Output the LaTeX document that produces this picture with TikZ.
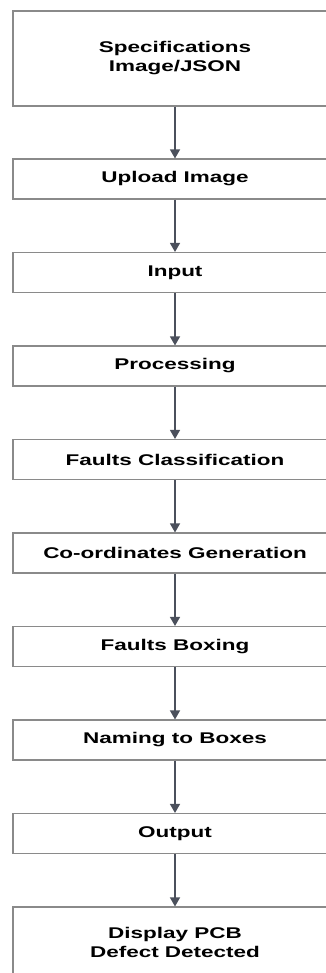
\documentclass[tikz,border=0pt]{standalone}
\usepackage{fontspec}
\newfontfamily\flowfont{Liberation Sans}[FakeStretch=1.45]
\usetikzlibrary{arrows.meta}
\definecolor{boxgray}{HTML}{8A8A8A}
\definecolor{arrowgray}{HTML}{4B505C}
\begin{document}
\begin{tikzpicture}[x=1pt,y=-1pt,
	stepbox/.style={draw=boxgray,line width=1.1pt,fill=white,minimum width=324pt,minimum height=40pt,
		align=center,font=\flowfont\bfseries\fontsize{15.5}{19}\selectfont},
	flow/.style={draw=arrowgray,line width=1.3pt,-{Triangle[length=9pt,width=10pt]}}]
	\useasboundingbox[fill=white] (0,0) rectangle (326,973);

	\node[stepbox,minimum height=95pt] (spec) at (175,58.5) {Specifications\\Image/JSON};
	\node[stepbox] (upload) at (175,179) {Upload Image};
	\node[stepbox] (input) at (175,272.5) {Input};
	\node[stepbox] (proc) at (175,366) {Processing};
	\node[stepbox] (classify) at (175,459.5) {Faults Classification};
	\node[stepbox] (coord) at (175,553) {Co-ordinates Generation};
	\node[stepbox] (boxing) at (175,646.5) {Faults Boxing};
	\node[stepbox] (naming) at (175,740) {Naming to Boxes};
	\node[stepbox] (output) at (175,833.5) {Output};
	\node[stepbox,minimum height=70pt] (display) at (175,942) {Display PCB\\Defect Detected};

	\draw[flow] (spec) -- (upload);
	\draw[flow] (upload) -- (input);
	\draw[flow] (input) -- (proc);
	\draw[flow] (proc) -- (classify);
	\draw[flow] (classify) -- (coord);
	\draw[flow] (coord) -- (boxing);
	\draw[flow] (boxing) -- (naming);
	\draw[flow] (naming) -- (output);
	\draw[flow] (output) -- (display);
\end{tikzpicture}
\end{document}
